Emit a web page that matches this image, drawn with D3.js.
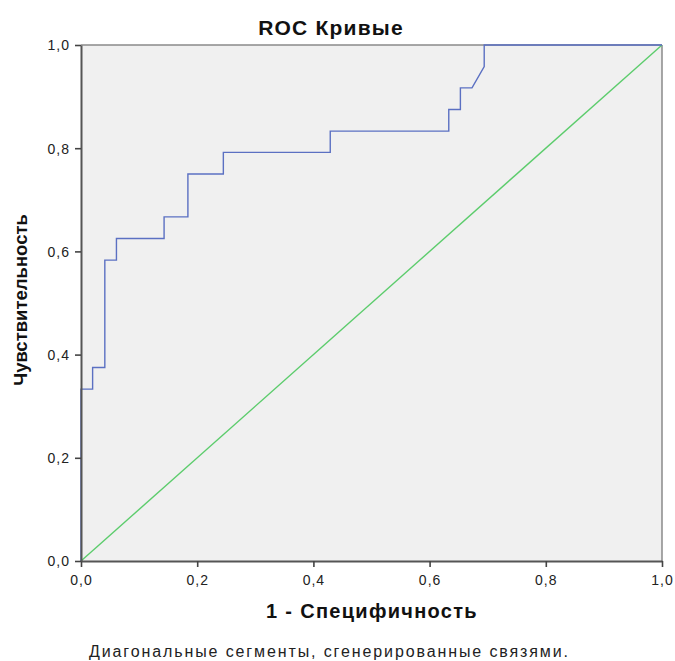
<!DOCTYPE html>
<html><head><meta charset="utf-8">
<script src="https://cdn.jsdelivr.net/npm/d3@7"></script>
<style>body{margin:0;background:#fff;} svg{display:block;font-family:"Liberation Sans",Arial,sans-serif;}</style>
</head><body>
<svg id="c" width="675" height="661"></svg>
<script>
const fpr = [0,0,0.020,0.020,0.041,0.041,0.061,0.061,0.143,0.143,0.184,0.184,0.245,0.245,0.429,0.429,0.633,0.633,0.653,0.653,0.673,0.694,0.694,1.0];
const tpr = [0,0.333,0.333,0.375,0.375,0.583,0.583,0.625,0.625,0.667,0.667,0.750,0.750,0.792,0.792,0.833,0.833,0.875,0.875,0.917,0.917,0.958,1.0,1.0];
const diagonal = [[0,0],[1,1]];
const ticks = [0,0.2,0.4,0.6,0.8,1.0];
const tickLabels = ["0,0","0,2","0,4","0,6","0,8","1,0"];

const svg = d3.select("#c");
const L=81, R=662, T=45, B=561;
const x = d3.scaleLinear().domain([0,1]).range([L,R]);
const y = d3.scaleLinear().domain([0,1]).range([B,T]);

svg.append("rect").attr("x",L).attr("y",T).attr("width",R-L).attr("height",B-T).attr("fill","#f0f0f0");
svg.append("line").attr("x1",L).attr("x2",R).attr("y1",T).attr("y2",T).attr("stroke","#8a8a8a").attr("stroke-width",1.5);
svg.append("line").attr("x1",R).attr("x2",R).attr("y1",T).attr("y2",B).attr("stroke","#8a8a8a").attr("stroke-width",1.5);

const line = d3.line().x(d=>x(d[0])).y(d=>y(d[1]));
svg.append("path").datum(diagonal).attr("d",line).attr("fill","none").attr("stroke","#5ccc6c").attr("stroke-width",1.4);
svg.append("path").datum(fpr.map((f,i)=>[f,tpr[i]])).attr("d",line).attr("fill","none").attr("stroke","#5b70c2").attr("stroke-width",1.4);

const xa = svg.append("g").attr("transform",`translate(0,${B})`)
  .call(d3.axisBottom(x).tickValues(ticks).tickFormat((d,i)=>tickLabels[i]).tickSize(6).tickSizeOuter(0));
const ya = svg.append("g").attr("transform",`translate(${L},0)`)
  .call(d3.axisLeft(y).tickValues(ticks).tickFormat((d,i)=>tickLabels[i]).tickSize(6).tickSizeOuter(0));
[xa,ya].forEach(a=>{
  a.select(".domain").attr("stroke","#555").attr("stroke-width",2);
  a.selectAll(".tick line").attr("stroke","#444").attr("stroke-width",1.6);
  a.selectAll(".tick text").attr("font-size",14).attr("letter-spacing","1px").attr("fill","#222").attr("font-family","Liberation Sans, Arial, sans-serif");
});
xa.selectAll(".tick text").attr("y",null).attr("dy",null).attr("y",24);
ya.selectAll(".tick text").attr("x",-11).attr("dy","0.35em");

svg.append("text").attr("x",331).attr("y",35).attr("text-anchor","middle").attr("font-size",21).attr("font-weight","bold").attr("fill","#111")
  .attr("letter-spacing","1.2px").text("ROC Кривые");
svg.append("text").attr("x",372).attr("y",618).attr("text-anchor","middle").attr("font-size",20).attr("font-weight","bold").attr("fill","#111")
  .attr("letter-spacing","1.3px").text("1 - Специфичность");
svg.append("text").attr("transform","translate(27,300) rotate(-90)").attr("text-anchor","middle").attr("font-size",18.5).attr("font-weight","bold").attr("fill","#111")
  .text("Чувствительность");
svg.append("text").attr("x",89).attr("y",657).attr("font-size",16).attr("fill","#222")
  .attr("textLength",479).attr("lengthAdjust","spacing").text("Диагональные сегменты, сгенерированные связями.");
</script>
</body></html>
